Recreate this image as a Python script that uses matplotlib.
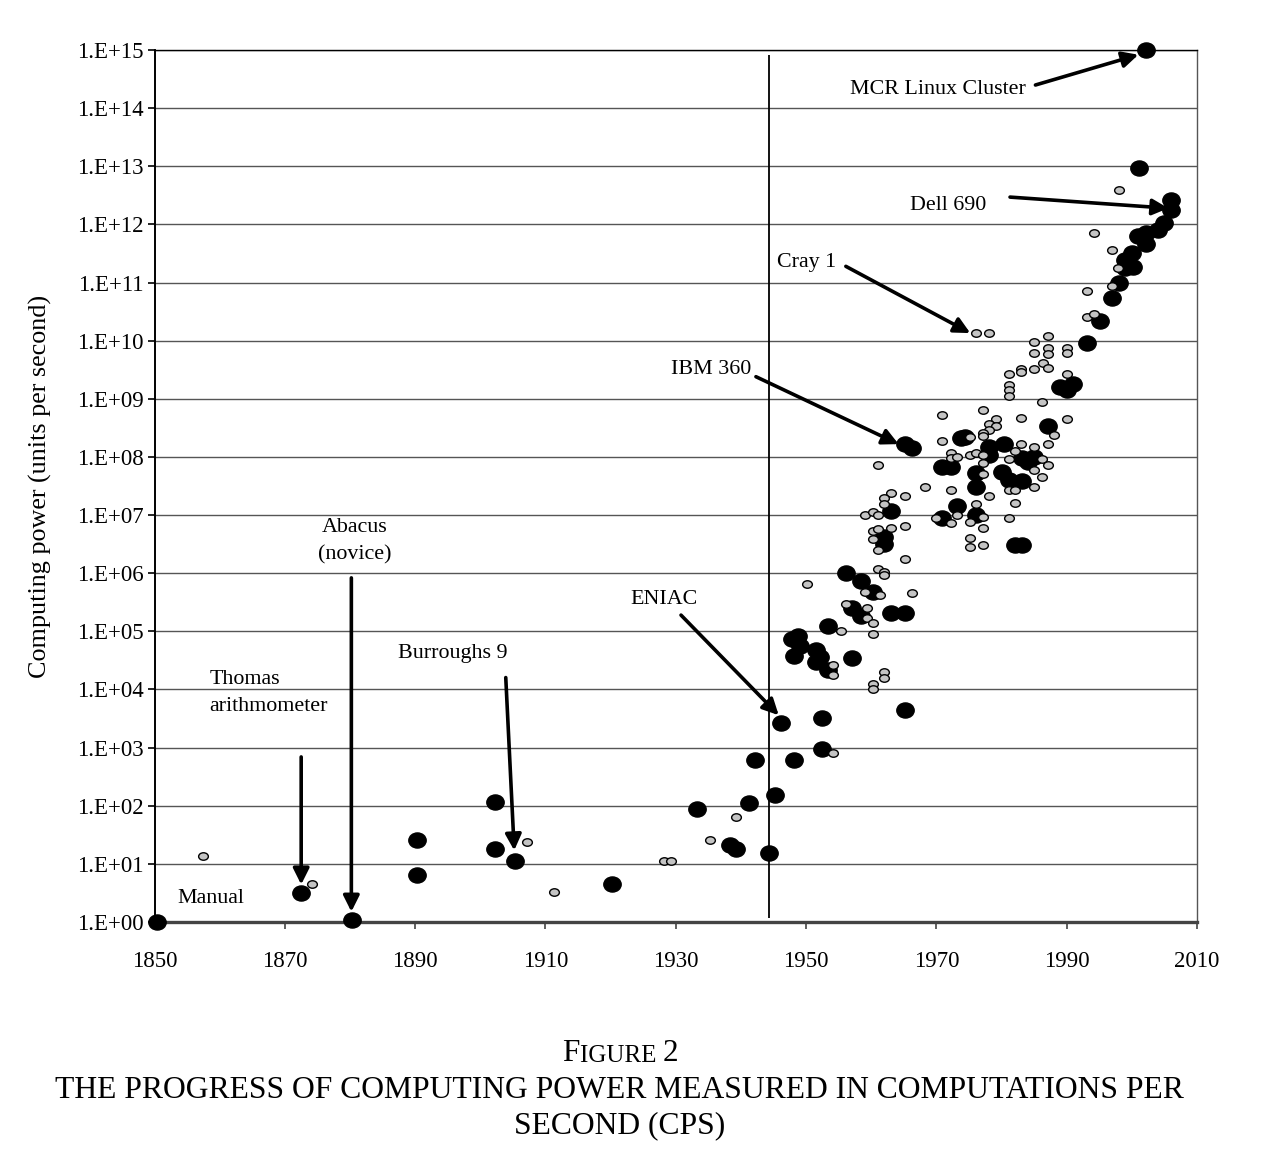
import numpy as np
import matplotlib
matplotlib.use('Agg')
import matplotlib.pyplot as plt
from matplotlib.path import Path

plt.rcParams['font.family'] = ['Liberation Serif', 'DejaVu Serif']

# large black markers (year, computations per second)
black_year = [1850.3, 1872.4, 1880.3, 1890.3, 1890.3, 1902.3, 1902.3, 1905.3, 1920.2, 1933.2,
              1938.3, 1939.3, 1941.2, 1942.1, 1944.3, 1945.3, 1946.2, 1948.1, 1952.4, 1952.4,
              1965.2, 1957.1, 1956.2, 1958.4, 1960.2, 1957.1, 1958.4, 1963.1, 1965.2, 1953.3,
              1948.7, 1947.9, 1949.0, 1948.1, 1951.5, 1952.2, 1951.5, 1953.3, 1965.2, 1966.3,
              1973.7, 1974.4, 1978.0, 1980.3, 1978.0, 1983.2, 1985.0, 1984.0, 1970.9, 1972.3,
              1976.1, 1980.1, 1981.2, 1983.2, 1976.1, 1973.2, 1963.1, 1970.9, 1976.1, 1962.0,
              1962.0, 1982.1, 1983.2, 1989.0, 1990.1, 1991.0, 1987.2, 1993.1, 1995.1, 1997.0,
              1998.0, 2000.0, 1999.0, 1999.0, 2000.2, 2002.2, 2001.0, 2002.2, 2004.9, 2004.0,
              2006.0, 2006.0, 2001.1, 2002.2]
black_cps = [1.0, 3.2, 1.1, 26, 6.4, 116, 18, 11.2, 4.5, 88,
             21, 18, 112, 610, 15.4, 152, 2650, 610, 3230, 950,
             4450, 3.5e4, 1.0e6, 7.4e5, 4.8e5, 2.5e5, 1.8e5, 2.1e5, 2.1e5, 1.24e5,
             8.3e4, 7.4e4, 5.6e4, 3.8e4, 4.8e4, 3.6e4, 3.0e4, 2.2e4, 1.66e8, 1.4e8,
             2.1e8, 2.2e8, 1.5e8, 1.7e8, 1.1e8, 9.6e7, 1.0e8, 8.2e7, 6.7e7, 6.7e7,
             5.3e7, 5.5e7, 4.0e7, 3.9e7, 3.0e7, 1.44e7, 1.17e7, 8.9e6, 1.0e7, 4.2e6,
             3.2e6, 3.1e6, 3.1e6, 1.6e9, 1.4e9, 1.8e9, 3.4e8, 9.1e9, 2.2e10, 5.4e10,
             9.8e10, 3.2e11, 2.4e11, 1.8e11, 1.85e11, 7.1e11, 6.3e11, 4.6e11, 1.05e12, 8.0e11,
             2.6e12, 1.8e12, 9.3e12, 1.0e15]

# small grey markers
grey_year = [1857.4, 1874.2, 1907.2, 1911.3, 1928.2, 1929.2, 1935.2, 1939.3, 1954.1, 1950.2,
             1961.1, 1962.0, 1962.0, 1959.1, 1961.3, 1966.3, 1956.1, 1959.3, 1959.4, 1960.3,
             1955.3, 1960.3, 1954.1, 1954.1, 1962.0, 1962.0, 1960.3, 1960.3, 1976.1, 1978.0,
             1993.1, 1994.2, 1987.2, 1985.0, 1985.0, 1987.2, 1987.2, 1990.1, 1990.1, 1986.4,
             1987.2, 1983.0, 1983.0, 1985.0, 1981.2, 1981.2, 1981.2, 1981.2, 1990.1, 1986.2,
             1977.2, 1970.9, 1990.1, 1983.0, 1979.2, 1978.0, 1979.2, 1978.0, 1977.2, 1977.2,
             1988.1, 1975.1, 1970.9, 1983.0, 1985.0, 1987.2, 1972.3, 1972.3, 1973.2, 1975.1,
             1976.1, 1977.2, 1982.1, 1981.2, 1986.2, 1987.2, 1985.0, 1986.2, 1985.0, 1961.1,
             1977.2, 1977.2, 1981.2, 1982.1, 1982.1, 1968.2, 1972.3, 1978.0, 1963.1, 1962.0,
             1965.2, 1962.0, 1976.1, 1959.1, 1960.2, 1961.1, 1970.0, 1972.3, 1973.2, 1975.1,
             1977.2, 1977.2, 1981.2, 1960.2, 1961.1, 1960.2, 1963.1, 1965.2, 1961.1, 1975.1,
             1975.1, 1977.2, 1965.2, 1998.0, 1994.2, 1997.0, 1997.9, 1997.0, 1993.1]
grey_cps = [13.6, 4.5, 24, 3.3, 11.2, 11.2, 26, 64, 810, 6.5e5,
            1.2e6, 1.05e6, 9.3e5, 4.8e5, 4.2e5, 4.6e5, 3.0e5, 2.5e5, 1.7e5, 1.4e5,
            1.0e5, 9.0e4, 2.6e4, 1.8e4, 2.0e4, 1.6e4, 1.24e4, 1.02e4, 1.35e10, 1.35e10,
            2.6e10, 2.9e10, 1.2e10, 9.5e9, 6.2e9, 7.5e9, 5.9e9, 7.5e9, 6.2e9, 4.2e9,
            3.4e9, 3.2e9, 2.9e9, 3.2e9, 2.7e9, 1.7e9, 1.4e9, 1.1e9, 2.7e9, 8.9e8,
            6.4e8, 5.3e8, 4.5e8, 4.7e8, 4.5e8, 3.7e8, 3.4e8, 2.9e8, 2.6e8, 2.3e8,
            2.4e8, 2.2e8, 1.9e8, 1.7e8, 1.5e8, 1.7e8, 1.17e8, 9.6e7, 1.0e8, 1.07e8,
            1.17e8, 1.1e8, 1.26e8, 9.2e7, 9.2e7, 7.2e7, 6.0e7, 4.5e7, 3.0e7, 7.2e7,
            7.9e7, 5.1e7, 2.7e7, 2.7e7, 1.6e7, 3.0e7, 2.7e7, 2.1e7, 2.4e7, 2.0e7,
            2.1e7, 1.55e7, 1.55e7, 1.0e7, 1.13e7, 1.0e7, 8.9e6, 7.3e6, 1.0e7, 7.6e6,
            9.3e6, 6.0e6, 8.9e6, 5.3e6, 5.8e6, 3.9e6, 6.0e6, 6.5e6, 2.5e6, 4.0e6,
            2.8e6, 3.1e6, 1.75e6, 3.9e12, 7.1e11, 3.6e11, 1.8e11, 8.7e10, 7.2e10]

x_ticks = [1850, 1870, 1890, 1910, 1930, 1950, 1970, 1990, 2010]
y_ticks = [1e0, 1e1, 1e2, 1e3, 1e4, 1e5, 1e6, 1e7, 1e8, 1e9, 1e10, 1e11, 1e12, 1e13, 1e14, 1e15]
y_tick_labels = ['1.E+00', '1.E+01', '1.E+02', '1.E+03', '1.E+04', '1.E+05', '1.E+06', '1.E+07',
                 '1.E+08', '1.E+09', '1.E+10', '1.E+11', '1.E+12', '1.E+13', '1.E+14', '1.E+15']

# (label, text position, arrow tail, arrow head)
notes = [
    ('MCR Linux Cluster', (1970.2, 2.1e14), None, None),
    ('Dell 690', (1971.8, 2.1e12), (1981.3, 2.95e12), (2005.6, 1.9e12)),
    ('Cray 1', (1950.1, 2.2e11), (1956.1, 1.9e11), (1975.2, 1.35e10)),
    ('IBM 360', (1935.4, 3.2e9), (1942.3, 2.4e9), (1964.2, 1.66e8)),
    ('ENIAC', (1928.2, 3.5e5), (1930.8, 1.9e5), (1945.8, 3.6e3)),
    ('Burroughs 9', (1895.7, 4.2e4), (1903.9, 1.6e4), (1905.2, 17)),
    ('Abacus\n(novice)', (1880.7, 3.5e6), (1880.2, 8.3e5), (1880.2, 1.5)),
    ('Manual', (1858.6, 2.5), None, None),
]
mcr_arrow = ((1985.2, 2.5e14), (2001.0, 8.3e14))

fig = plt.figure(figsize=(12.62, 11.66), dpi=100)
ax = fig.add_axes([0.1225, 0.2093, 0.826, 0.7478])
ax.set_yscale('log')
ax.set_xlim(1850, 2010)
ax.set_ylim(1, 1e15)

circ = Path.unit_circle()
ell_big = Path(circ.vertices * [1.15, 1.0], circ.codes)
ell_small = Path(circ.vertices * [1.3, 1.0], circ.codes)

ax.plot(black_year, black_cps, linestyle='none', marker=ell_big, markersize=12.5,
        color='black', clip_on=False, zorder=3)
ax.plot(grey_year, grey_cps, linestyle='none', marker=ell_small, markersize=7,
        markerfacecolor='#c4c4c4', markeredgecolor='black', markeredgewidth=1.0,
        clip_on=False, zorder=4)

ax.vlines(1944.3, 1.17, 8.3e14, color='black', lw=1.3, zorder=2)

ax.set_xticks(x_ticks)
ax.set_yticks(y_ticks)
ax.set_yticklabels(y_tick_labels)
ax.yaxis.set_minor_locator(matplotlib.ticker.NullLocator())
ax.tick_params(axis='both', labelsize=16.5, length=5, width=1.2, direction='out')
ax.tick_params(axis='x', pad=16, color='#444444')
ax.tick_params(axis='y', pad=3)
ax.grid(axis='y', color='#555555', lw=1.0)
ax.set_axisbelow(True)
ax.spines['left'].set_linewidth(1.4)
ax.spines['bottom'].set_linewidth(2.4)
ax.spines['bottom'].set_color('#444444')
ax.spines['top'].set_linewidth(1.0)
ax.spines['right'].set_linewidth(1.0)
ax.spines['right'].set_color('#555555')

ax.set_ylabel('Computing power (units per second)', fontsize=18.8, labelpad=18)

arrow = dict(arrowstyle='-|>', lw=2.6, color='black', mutation_scale=24, shrinkA=0, shrinkB=0)
for label, pos, tail, head in notes:
    ax.text(pos[0], pos[1], label, fontsize=15.8, ha='center', va='center',
            linespacing=1.6)
    if tail is not None:
        ax.annotate('', xy=head, xytext=tail, arrowprops=arrow)
ax.annotate('', xy=mcr_arrow[1], xytext=mcr_arrow[0], arrowprops=arrow)

ax.text(1858.4, 8.6e3, 'Thomas\narithmometer', fontsize=15.8, ha='left', va='center',
        linespacing=1.6)
ax.annotate('', xy=(1872.5, 4.4), xytext=(1872.5, 690), arrowprops=arrow)

# caption, "FIGURE" in small capitals
t1 = fig.text(0.4455, 1 - 1068 / 1166, 'F', fontsize=22.5, ha='left', va='bottom')
fig.canvas.draw()
bb = t1.get_window_extent()
t2 = fig.text(bb.x1 / fig.bbox.width, bb.y0 / fig.bbox.height + 0.0012, 'IGURE ',
              fontsize=18, ha='left', va='bottom')
fig.canvas.draw()
bb2 = t2.get_window_extent()
fig.text(bb2.x1 / fig.bbox.width, bb.y0 / fig.bbox.height, '2',
         fontsize=22.5, ha='left', va='bottom')
fig.text(0.491, 1 - 1090 / 1166, 'THE PROGRESS OF COMPUTING POWER MEASURED IN COMPUTATIONS PER',
         fontsize=22.8, ha='center', va='center')
fig.text(0.491, 1 - 1126 / 1166, 'SECOND (CPS)', fontsize=22.8, ha='center', va='center')

fig.savefig('out.png', dpi=100)
